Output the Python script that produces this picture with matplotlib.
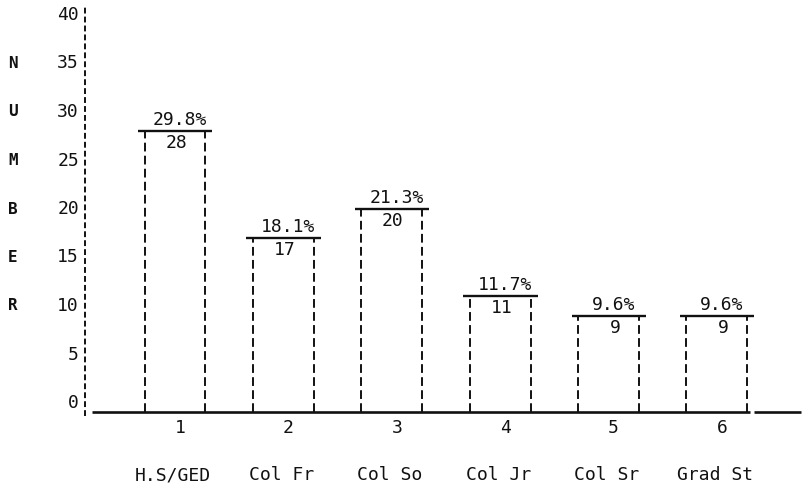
import matplotlib
matplotlib.use("Agg")
import matplotlib.pyplot as plt
import numpy as np

# ---- data ----
tick_numbers = ["1", "2", "3", "4", "5", "6"]
categories = ["H.S/GED", "Col Fr", "Col So", "Col Jr", "Col Sr", "Grad St"]
counts = [28, 17, 20, 11, 9, 9]
percents = [29.8, 18.1, 21.3, 11.7, 9.6, 9.6]
y_ticks = [0, 5, 10, 15, 20, 25, 30, 35, 40]
y_label = "NUMBER"

# ---- layout (pixel mapping for the 803x503 canvas) ----
W, H = 803, 503
PX_X0, PX_DX = 175.0, 108.4     # pixel of category 1, pixels per category
PX_Y0, PX_DY = 403.0, 9.7       # pixel of value 0, pixels per unit


def xd(px):
    return 1 + (px - PX_X0) / PX_DX


def yd(py):
    return (PX_Y0 - py) / PX_DY


def dx(px):
    return px / PX_DX


def dy(py):
    return py / PX_DY


ink = "#111111"
FONT = ["DejaVu Sans Mono"]
FS = 13

fig = plt.figure(figsize=(W / 100, H / 100), dpi=100)
ax = fig.add_axes([0, 0, 1, 1])
ax.set_xlim(xd(0), xd(W))
ax.set_ylim(yd(H), yd(0))
ax.axis("off")

x = np.arange(1, len(counts) + 1)
half = dx(30.5)
base = yd(412)

# y axis (dashed)
ax.plot([xd(85), xd(85)], [yd(416), yd(6)], color=ink, lw=1.4,
        linestyle=(0, (3, 1.6)))
# baseline
ax.plot([xd(92), xd(750)], [base, base], color=ink, lw=1.9, solid_capstyle="butt")
ax.plot([xd(754), xd(801)], [base, base], color=ink, lw=1.9, solid_capstyle="butt")

# y tick labels
for v in y_ticks:
    ax.text(xd(79), v, str(v), ha="right", va="center", family=FONT,
            fontsize=FS, color=ink)

# vertical "NUMBER"
for i, ch in enumerate(y_label):
    ax.text(xd(13), y_ticks[-2 - i], ch, ha="center", va="center",
            family=FONT, fontsize=FS - 1.5, color=ink, fontweight="bold")

# bars
for xi, c, p in zip(x, counts, percents):
    ax.vlines([xi - half, xi + half], base, c, colors=ink, lw=1.4,
              linestyles=(0, (4.5, 2.2)))
    ax.hlines(c, xi - half - dx(6.5), xi + half + dx(7), colors=ink, lw=1.7)
    ax.text(xi + dx(5), c + dy(2), f"{p:.1f}%", ha="center", va="bottom",
            family=FONT, fontsize=FS, color=ink)
    ax.text(xi + dx(12), c - dy(3), str(c), ha="right", va="top",
            family=FONT, fontsize=FS, color=ink)

# x tick numbers and category labels
for xi, t, cat in zip(x, tick_numbers, categories):
    ax.text(xi + dx(5), yd(428), t, ha="center", va="center", family=FONT,
            fontsize=FS, color=ink)
    ax.text(xi - dx(2), yd(475), cat, ha="center", va="center", family=FONT,
            fontsize=FS, color=ink)

fig.savefig("out.png", dpi=100)
